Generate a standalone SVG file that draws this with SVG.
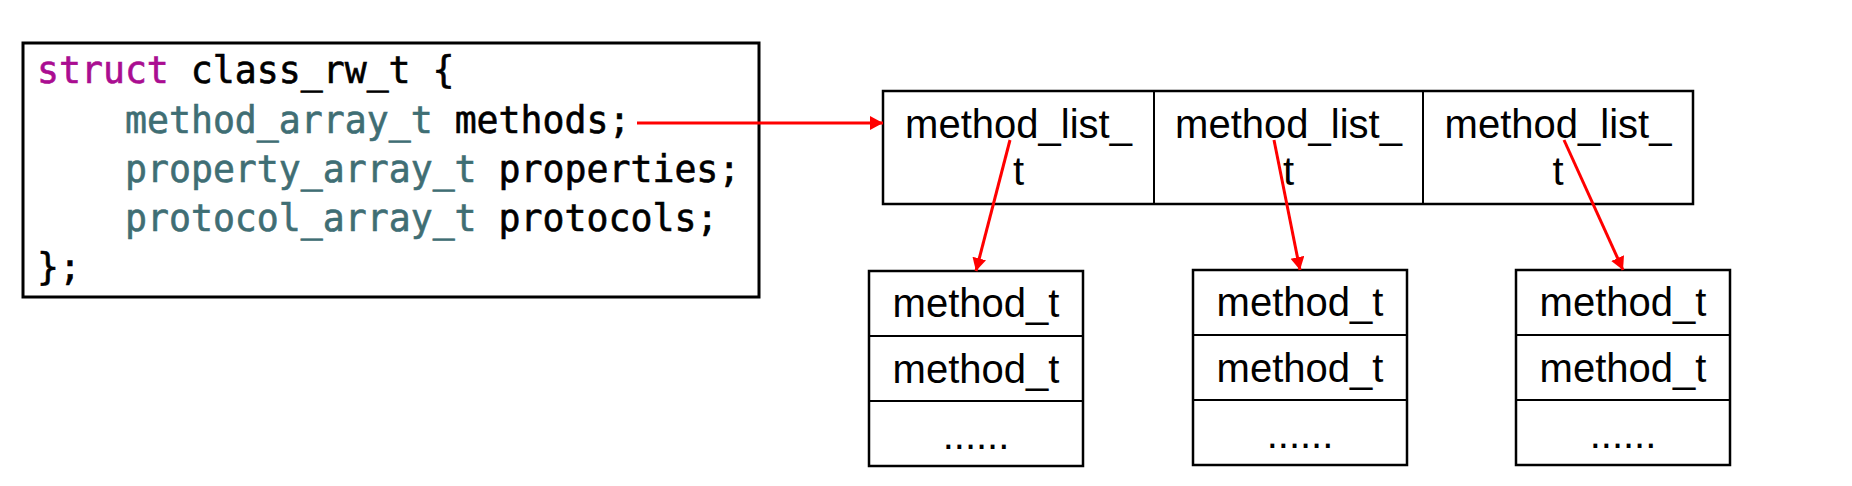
<svg xmlns="http://www.w3.org/2000/svg" width="1852" height="486" viewBox="0 0 1852 486">
<style>
.code{font-family:"DejaVu Sans Mono","Liberation Mono",monospace;font-size:36.5px;fill:#000;stroke:#000;stroke-width:0.6}
.kw{fill:#AA0D91;stroke:#AA0D91}
.ty{fill:#3F6E74;stroke:#3F6E74}
.lbl{font-family:"Liberation Sans",Arial,sans-serif;font-size:40px;fill:#000;text-anchor:middle}
.box{fill:#fff;stroke:#000;stroke-width:2.5}
.div{stroke:#000;stroke-width:2}
.conn{stroke:#FF0000;stroke-width:3;fill:none}
</style>
<defs>
<marker id="ah" markerUnits="userSpaceOnUse" markerWidth="16" markerHeight="16" refX="13" refY="7" orient="auto">
<path d="M0,0 L13,7 L0,14 z" fill="#FF0000"/>
</marker>
</defs>
<rect width="1852" height="486" fill="#fff"/>
<g id="class_rw_t">
<rect x="23" y="43" width="736" height="254" fill="#fff" stroke="#000" stroke-width="3"/>
<text class="code" x="37" y="83"><tspan class="kw">struct</tspan> class_rw_t {</text>
<text class="code" x="125" y="132.5"><tspan class="ty">method_array_t</tspan> methods;</text>
<text class="code" x="125" y="182"><tspan class="ty">property_array_t</tspan> properties;</text>
<text class="code" x="125" y="231"><tspan class="ty">protocol_array_t</tspan> protocols;</text>
<text class="code" x="37" y="280">};</text>
</g>
<g id="method_array">
<rect class="box" x="883" y="91" width="810" height="113"/>
<line class="div" x1="1154" y1="91" x2="1154" y2="204"/>
<line class="div" x1="1423" y1="91" x2="1423" y2="204"/>
<text class="lbl" x="1018.5" y="138">method_list_</text>
<text class="lbl" x="1018.5" y="185">t</text>
<text class="lbl" x="1288.5" y="138">method_list_</text>
<text class="lbl" x="1288.5" y="185">t</text>
<text class="lbl" x="1558" y="138">method_list_</text>
<text class="lbl" x="1558" y="185">t</text>
</g>
<g id="method_list_1">
<rect class="box" x="869" y="271" width="214" height="195"/>
<line class="div" x1="869" y1="336" x2="1083" y2="336"/>
<line class="div" x1="869" y1="401" x2="1083" y2="401"/>
<text class="lbl" x="976" y="317">method_t</text>
<text class="lbl" x="976" y="383">method_t</text>
<text class="lbl" x="976" y="449">......</text>
</g>
<g id="method_list_2">
<rect class="box" x="1193" y="270" width="214" height="195"/>
<line class="div" x1="1193" y1="335" x2="1407" y2="335"/>
<line class="div" x1="1193" y1="400" x2="1407" y2="400"/>
<text class="lbl" x="1300" y="316">method_t</text>
<text class="lbl" x="1300" y="382">method_t</text>
<text class="lbl" x="1300" y="448">......</text>
</g>
<g id="method_list_3">
<rect class="box" x="1516" y="270" width="214" height="195"/>
<line class="div" x1="1516" y1="335" x2="1730" y2="335"/>
<line class="div" x1="1516" y1="400" x2="1730" y2="400"/>
<text class="lbl" x="1623" y="316">method_t</text>
<text class="lbl" x="1623" y="382">method_t</text>
<text class="lbl" x="1623" y="448">......</text>
</g>
<g id="connectors">
<line class="conn" x1="637" y1="123" x2="883" y2="123" marker-end="url(#ah)"/>
<line class="conn" x1="1010" y1="140" x2="976" y2="271" marker-end="url(#ah)" stroke-width="2.5"/>
<line class="conn" x1="1274" y1="140" x2="1300" y2="270" marker-end="url(#ah)" stroke-width="2.5"/>
<line class="conn" x1="1564" y1="140" x2="1623" y2="270" marker-end="url(#ah)" stroke-width="2.5"/>
</g>
</svg>
